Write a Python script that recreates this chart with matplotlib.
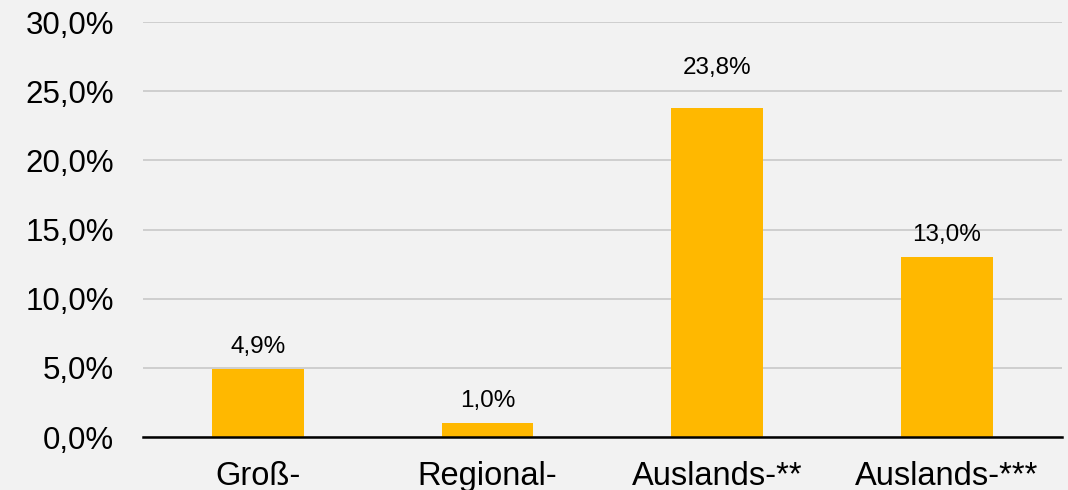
import matplotlib.pyplot as plt
from matplotlib.ticker import FuncFormatter

plt.rcParams['font.family'] = ['Liberation Sans', 'DejaVu Sans']

categories = ['Groß-', 'Regional-', 'Auslands-**', 'Auslands-***']
values = [4.9, 1.0, 23.8, 13.0]
# vertical offset (points) of each value label above its bar
label_offsets = [12, 12, 24.5, 12]

bg = '#F2F2F2'
fig = plt.figure(figsize=(10.68, 4.9), dpi=100, facecolor=bg)
ax = fig.add_axes([0.134, 0.108, 0.86, 0.847], facecolor=bg)

x = range(len(categories))
bars = ax.bar(x, values, width=0.4, color='#FFB800', zorder=3)

# value labels above bars
for bar, v, off in zip(bars, values, label_offsets):
    ax.annotate(f'{v:.1f}%'.replace('.', ','),
                (bar.get_x() + bar.get_width() / 2, v),
                xytext=(0, off), textcoords='offset points',
                ha='center', va='baseline', fontsize=17.5, color='#000000')

ax.set_xlim(-0.5, 3.5)
ax.set_ylim(0, 30)
ax.set_yticks([0, 5, 10, 15, 20, 25, 30])
ax.yaxis.set_major_formatter(FuncFormatter(lambda v, p: f'{v:.1f}%'.replace('.', ',')))
ax.set_xticks(list(x))
ax.set_xticklabels(categories)

ax.grid(axis='y', color='#C8C8C8', linewidth=1.2, zorder=0)
for s in ['left', 'right', 'top']:
    ax.spines[s].set_visible(False)
ax.spines['bottom'].set_color('#000000')
ax.spines['bottom'].set_linewidth(1.8)
ax.spines['bottom'].set_zorder(4)

ax.tick_params(axis='y', length=0, pad=21, labelsize=22.5)
ax.tick_params(axis='x', length=0, pad=17, labelsize=23.5)

fig.savefig('out.png', dpi=100, facecolor=bg)
